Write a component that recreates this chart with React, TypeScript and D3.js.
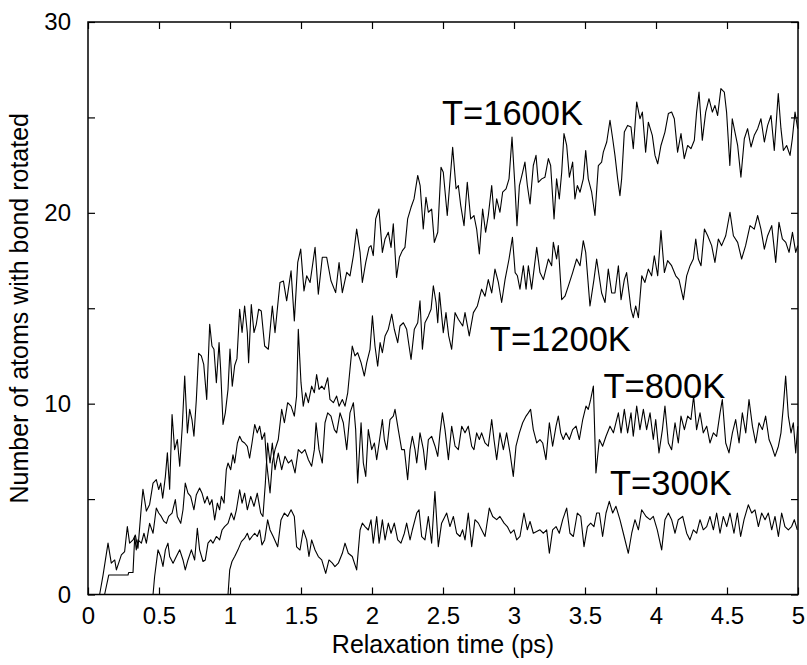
import React, { useEffect, useRef } from "react";
import * as d3 from "d3";

// tick values
const xTicks = [0, 0.5, 1, 1.5, 2, 2.5, 3, 3.5, 4, 4.5, 5];
const yTicks = [0, 5, 10, 15, 20, 25, 30];
const yLabelled = [0, 10, 20, 30];

// [time (ps), number of atoms]
const series1600: [number, number][] = [
  [0, 0], [0.082, 0], [0.106, 1.02], [0.141, 2.69], [0.164, 1.64], [0.188, 1.81], [0.2, 1.29], [0.235, 2.08], [0.258, 2.25], [0.277, 3.56], [0.293, 2.69], [0.317, 2.86], [0.333, 3.12], [0.352, 2.42], [0.376, 4.64], [0.387, 5.51], [0.411, 4.37], [0.434, 4.72], [0.458, 5.84], [0.481, 6.02], [0.498, 5.5], [0.512, 5.84], [0.526, 5.05], [0.545, 6.19], [0.559, 7.42], [0.575, 5.52], [0.592, 9.43], [0.61, 7.59], [0.629, 8.12], [0.646, 6.72], [0.664, 8.82], [0.681, 11.45], [0.7, 8.47], [0.716, 9.7], [0.732, 9.17], [0.746, 8.29], [0.763, 10.22], [0.779, 12.64], [0.798, 12.5], [0.815, 12.06], [0.836, 10.22], [0.857, 14.16], [0.873, 13.02], [0.887, 12.85], [0.904, 11.1], [0.923, 13.2], [0.934, 11.8], [0.951, 8.91], [0.967, 9.52], [0.986, 10.75], [1.0, 12.86], [1.016, 10.92], [1.033, 12.0], [1.049, 12.36], [1.068, 14.95], [1.085, 13.73], [1.103, 15.12], [1.122, 13.73], [1.131, 12.15], [1.15, 15.2], [1.169, 13.73], [1.185, 14.16], [1.202, 14.95], [1.22, 14.86], [1.244, 13.02],
  [1.27, 12.85], [1.298, 15.12], [1.317, 13.72], [1.352, 16.35], [1.376, 16.43], [1.399, 15.39], [1.43, 16.96], [1.453, 14.34], [1.477, 17.4], [1.498, 18.1], [1.521, 15.91], [1.54, 16.7], [1.564, 16.35], [1.599, 18.19], [1.622, 15.74], [1.65, 17.67], [1.681, 17.67], [1.711, 16.44], [1.744, 15.82], [1.768, 17.4], [1.791, 15.82], [1.822, 16.88], [1.845, 16.7], [1.869, 17.76], [1.892, 19.15], [1.916, 17.93], [1.932, 16.35], [1.956, 17.4], [1.979, 18.19], [1.993, 18.28], [2.009, 17.76], [2.026, 19.68], [2.049, 20.2], [2.073, 17.93], [2.092, 18.63], [2.115, 18.98], [2.134, 18.19], [2.15, 19.42], [2.173, 16.61], [2.193, 17.67], [2.214, 18.02], [2.232, 18.19], [2.251, 19.68], [2.275, 20.29], [2.296, 20.73], [2.322, 21.96], [2.339, 21.43], [2.361, 19.15], [2.38, 20.82], [2.397, 20.03], [2.42, 20.2], [2.439, 18.45], [2.463, 18.98], [2.486, 22.39], [2.502, 22.13],
  [2.53, 19.86], [2.568, 23.44], [2.592, 21.26], [2.608, 21.43], [2.625, 20.38], [2.648, 19.33], [2.671, 21.6], [2.695, 19.68], [2.718, 19.86], [2.737, 19.15], [2.756, 17.84], [2.779, 20.2], [2.8, 18.98], [2.819, 19.86], [2.843, 21.43], [2.861, 19.68], [2.878, 20.73], [2.901, 20.03], [2.92, 21.08], [2.944, 21.26], [2.965, 21.78], [2.986, 23.97], [3.005, 21.6], [3.021, 19.33], [3.038, 21.43], [3.061, 22.13], [3.077, 22.66], [3.094, 21.43], [3.113, 20.47], [3.136, 22.48], [3.155, 23.01], [3.171, 21.6], [3.195, 21.78], [3.218, 21.87], [3.242, 22.84], [3.258, 22.48], [3.282, 19.68], [3.3, 21.78], [3.319, 20.73], [3.336, 22.13], [3.352, 24.15], [3.371, 23.53], [3.39, 21.87], [3.413, 22.66], [3.429, 20.73], [3.446, 21.43], [3.465, 21.08], [3.488, 21.78], [3.505, 23.27], [3.523, 21.78], [3.547, 21.08], [3.57, 19.86], [3.594, 22.48], [3.617, 22.66], [3.629, 23.18], [3.653, 23.71], [3.676, 24.85], [3.695, 23.88], [3.711, 23.01],
  [3.73, 21.78], [3.746, 20.9], [3.758, 21.78], [3.777, 24.23], [3.8, 24.58], [3.824, 24.5], [3.84, 23.36], [3.864, 25.81], [3.887, 24.93], [3.904, 25.28], [3.927, 23.18], [3.946, 24.75], [3.974, 24.06], [3.993, 23.01], [4.012, 22.57], [4.035, 23.53], [4.063, 24.23], [4.087, 25.2], [4.11, 25.28], [4.129, 24.93], [4.152, 23.18], [4.176, 24.15], [4.199, 22.84], [4.223, 23.53], [4.246, 23.36], [4.27, 23.8], [4.286, 25.28], [4.303, 26.33], [4.326, 23.8], [4.35, 25.28], [4.373, 25.98], [4.397, 25.28], [4.415, 25.63], [4.434, 25.1], [4.457, 26.51], [4.481, 26.33], [4.497, 25.28], [4.52, 22.48], [4.537, 24.93], [4.556, 24.23], [4.575, 23.53], [4.598, 21.87], [4.622, 23.88], [4.645, 24.41], [4.669, 23.45], [4.692, 24.06], [4.716, 24.41], [4.739, 24.93], [4.763, 23.71], [4.786, 24.58], [4.81, 25.1], [4.833, 23.27], [4.861, 26.25], [4.88, 24.41], [4.897, 23.27], [4.92, 23.53], [4.944, 23.01], [4.96, 23.88], [4.979, 25.28], [4.998, 24.41],
];

const series1200: [number, number][] = [
  [0, 0], [0.117, 0], [0.146, 1.02], [0.282, 1.02], [0.286, 1.15], [0.317, 1.15], [0.329, 3.04], [0.34, 2.34], [0.352, 2.86], [0.376, 2.69], [0.394, 3.21], [0.411, 2.69], [0.434, 3.73], [0.458, 3.21], [0.481, 4.53], [0.498, 4.27], [0.516, 4.09], [0.535, 3.83], [0.552, 3.73], [0.568, 4.09], [0.592, 4.27], [0.615, 4.97], [0.629, 4.09], [0.653, 3.73], [0.669, 4.44], [0.685, 5.84], [0.704, 5.31], [0.723, 5.14], [0.746, 4.44], [0.763, 5.23], [0.786, 5.58], [0.803, 5.31], [0.822, 4.79], [0.84, 5.14], [0.857, 4.7], [0.873, 4.97], [0.892, 3.91], [0.911, 4.79], [0.927, 4.44], [0.939, 5.14], [0.958, 4.79], [0.974, 6.54], [0.986, 6.89], [1.005, 6.54], [1.021, 7.32], [1.033, 6.89], [1.052, 7.94], [1.068, 8.29], [1.085, 8.03], [1.103, 7.94], [1.122, 7.76], [1.138, 7.15], [1.155, 7.94], [1.174, 8.91], [1.192, 8.47], [1.209, 8.82], [1.225, 8.12], [1.244, 8.47],
  [1.258, 6.9], [1.282, 5.32], [1.298, 6.9], [1.317, 7.59], [1.34, 8.12], [1.364, 9.7], [1.383, 9.0], [1.406, 10.05], [1.43, 9.87], [1.453, 9.35], [1.469, 10.4], [1.481, 13.9], [1.5, 11.1], [1.516, 9.87], [1.533, 10.57], [1.552, 10.05], [1.575, 10.92], [1.594, 10.57], [1.61, 11.53], [1.627, 10.75], [1.646, 10.92], [1.664, 10.75], [1.688, 11.36], [1.704, 10.22], [1.728, 10.05], [1.751, 10.4], [1.768, 9.87], [1.791, 10.22], [1.81, 9.87], [1.829, 10.57], [1.845, 11.8], [1.861, 13.02], [1.88, 12.5], [1.899, 12.67], [1.923, 12.15], [1.946, 11.45], [1.963, 12.15], [1.986, 12.85], [2.003, 14.6], [2.021, 13.02], [2.04, 11.97], [2.057, 13.2], [2.073, 12.67], [2.092, 13.55], [2.115, 13.9], [2.139, 14.69], [2.157, 13.9], [2.181, 13.2], [2.197, 14.07], [2.221, 14.24], [2.244, 13.9], [2.261, 13.02], [2.275, 12.32], [2.298, 13.9], [2.322, 14.24], [2.338, 15.39], [2.355, 12.85], [2.373, 14.24], [2.397, 14.6], [2.416, 14.95], [2.432, 16.18], [2.451, 15.3], [2.463, 14.24], [2.475, 15.82],
  [2.502, 13.72], [2.521, 14.77], [2.54, 13.55], [2.561, 12.85], [2.585, 14.77], [2.608, 14.42], [2.639, 14.07], [2.655, 14.77], [2.685, 13.55], [2.714, 14.77], [2.742, 15.12], [2.772, 16.0], [2.796, 15.63], [2.819, 16.5], [2.843, 15.8], [2.866, 17.05], [2.89, 16.35], [2.913, 15.3], [2.937, 16.5], [2.965, 17.58], [2.989, 18.72], [3.008, 16.87], [3.024, 16.7], [3.042, 16.0], [3.066, 17.23], [3.085, 16.0], [3.101, 17.23], [3.124, 16.0], [3.16, 18.19], [3.183, 16.87], [3.207, 16.5], [3.242, 17.58], [3.265, 17.23], [3.277, 18.45], [3.3, 17.58], [3.312, 18.28], [3.336, 15.45], [3.359, 15.63], [3.383, 16.17], [3.413, 16.87], [3.441, 17.58], [3.465, 17.23], [3.488, 18.54], [3.505, 17.93], [3.535, 15.12], [3.563, 16.5], [3.582, 17.58], [3.617, 15.8], [3.641, 15.3], [3.664, 17.05], [3.688, 15.8],
  [3.711, 15.8], [3.735, 17.23], [3.754, 15.45], [3.777, 16.5], [3.793, 16.87], [3.824, 14.95], [3.84, 14.51], [3.857, 15.12], [3.876, 14.51], [3.9, 16.7], [3.922, 16.35], [3.946, 17.05], [3.969, 16.7], [3.988, 17.75], [4.012, 16.7], [4.035, 19.07], [4.059, 16.87], [4.082, 17.5], [4.11, 17.23], [4.139, 16.7], [4.162, 16.5], [4.193, 15.45], [4.216, 16.7], [4.24, 17.23], [4.263, 17.58], [4.28, 18.63], [4.298, 17.58], [4.317, 17.23], [4.341, 19.15], [4.364, 18.8], [4.392, 18.28], [4.415, 17.4], [4.439, 18.63], [4.462, 18.28], [4.491, 18.8], [4.521, 20.03], [4.545, 18.8], [4.575, 18.45], [4.603, 17.58], [4.631, 18.28], [4.662, 19.33], [4.692, 19.15], [4.716, 19.86], [4.739, 19.15], [4.763, 18.1], [4.786, 18.8], [4.815, 19.33], [4.843, 17.4], [4.866, 19.5], [4.89, 18.63], [4.914, 18.45], [4.937, 17.93], [4.961, 18.98], [4.984, 17.93], [4.998, 18.28],
];

const series800: [number, number][] = [
  [0, 0], [0.458, 0], [0.469, 0.93], [0.493, 2.34], [0.512, 1.99], [0.528, 1.47], [0.545, 2.34], [0.563, 2.69], [0.575, 1.99], [0.599, 1.64], [0.622, 1.99], [0.646, 2.34], [0.669, 1.81], [0.685, 1.29], [0.704, 1.81], [0.728, 2.34], [0.751, 1.81], [0.77, 3.47], [0.786, 2.34], [0.81, 1.73], [0.826, 1.81], [0.845, 2.69], [0.864, 2.86], [0.88, 2.69], [0.904, 3.04], [0.927, 2.86], [0.944, 3.38], [0.962, 3.56], [0.986, 3.73], [1.009, 4.27], [1.028, 3.91], [1.045, 4.44], [1.068, 5.49], [1.085, 4.79], [1.103, 5.31], [1.122, 4.44], [1.146, 5.14], [1.169, 4.62], [1.192, 5.31], [1.216, 4.27], [1.232, 4.09], [1.249, 5.84],
  [1.265, 7.94], [1.282, 6.89], [1.298, 7.94], [1.317, 6.54], [1.34, 7.41], [1.364, 6.54], [1.387, 7.24], [1.411, 6.89], [1.434, 7.06], [1.458, 6.37], [1.481, 7.59], [1.505, 7.41], [1.528, 7.59], [1.552, 7.06], [1.575, 6.72], [1.594, 7.59], [1.606, 9.0], [1.627, 7.59], [1.65, 6.89], [1.669, 9.0], [1.688, 9.52], [1.711, 9.35], [1.735, 8.64], [1.751, 8.47], [1.775, 9.52], [1.798, 9.0], [1.822, 7.59], [1.845, 9.52], [1.869, 10.05], [1.885, 8.64], [1.899, 5.84], [1.923, 9.0], [1.939, 6.89], [1.956, 6.19], [1.974, 8.64], [1.998, 7.59], [2.017, 7.94], [2.033, 7.06], [2.05, 7.94], [2.073, 9.17], [2.087, 8.12], [2.104, 7.59], [2.127, 9.17], [2.15, 9.35], [2.162, 9.7], [2.185, 8.64], [2.209, 7.59], [2.228, 7.59], [2.251, 6.02], [2.268, 7.59], [2.284, 8.29], [2.303, 7.59], [2.315, 6.89], [2.338, 8.47], [2.362, 7.59], [2.378, 6.54], [2.397, 8.12], [2.42, 8.29], [2.444, 7.77], [2.463, 7.24], [2.479, 8.47], [2.496, 9.52], [2.514, 8.64],
  [2.538, 7.07], [2.561, 8.82], [2.585, 7.77], [2.608, 7.59], [2.632, 8.82], [2.655, 8.47], [2.678, 8.82], [2.702, 7.77], [2.718, 7.59], [2.737, 8.47], [2.756, 8.12], [2.772, 8.47], [2.796, 7.94], [2.819, 7.77], [2.843, 9.17], [2.859, 8.12], [2.878, 7.07], [2.901, 8.47], [2.925, 7.59], [2.948, 8.47], [2.972, 7.42], [2.995, 6.19], [3.014, 7.77], [3.038, 8.47], [3.061, 9.0], [3.085, 9.35], [3.101, 9.52], [3.117, 9.7], [3.136, 8.64], [3.16, 7.94], [3.183, 8.12], [3.202, 7.94], [3.225, 7.07], [3.249, 9.0], [3.272, 7.77], [3.296, 8.82], [3.312, 9.35], [3.329, 8.47], [3.347, 8.12], [3.366, 8.47], [3.39, 8.12], [3.413, 8.64], [3.437, 8.82], [3.46, 8.12], [3.484, 9.17], [3.507, 9.87], [3.523, 9.7], [3.54, 10.22], [3.559, 10.92], [3.577, 6.37], [3.601, 8.12], [3.624, 7.77], [3.648, 8.29], [3.676, 8.82], [3.7, 8.47],
  [3.735, 9.52], [3.754, 8.47], [3.777, 9.7], [3.8, 8.47], [3.824, 9.52], [3.84, 8.29], [3.864, 9.87], [3.887, 8.64], [3.911, 9.7], [3.934, 8.64], [3.958, 9.52], [3.981, 8.12], [3.998, 9.17], [4.021, 7.42], [4.045, 8.64], [4.063, 9.87], [4.087, 7.94], [4.11, 7.59], [4.134, 9.0], [4.157, 7.94], [4.176, 9.35], [4.2, 8.64], [4.223, 9.35], [4.246, 9.17], [4.265, 10.4], [4.286, 8.64], [4.31, 9.52], [4.333, 8.47], [4.357, 8.82], [4.38, 7.94], [4.404, 8.47], [4.427, 8.29], [4.451, 9.52], [4.467, 10.22], [4.491, 7.94], [4.514, 7.42], [4.538, 8.47], [4.561, 9.17], [4.585, 7.94], [4.608, 9.52], [4.632, 8.47], [4.655, 10.22], [4.679, 8.82], [4.702, 7.94], [4.725, 9.0], [4.749, 8.64], [4.772, 9.35], [4.796, 8.12], [4.815, 7.77], [4.838, 7.24], [4.862, 7.77], [4.88, 8.47], [4.897, 9.87], [4.913, 11.45], [4.932, 9.35], [4.951, 8.47], [4.967, 9.0], [4.984, 7.42], [4.998, 8.82],
];

const series300: [number, number][] = [
  [0, 0], [0.986, 0], [0.998, 1.29], [1.014, 1.73], [1.033, 1.99], [1.056, 2.34], [1.08, 2.77], [1.103, 2.95], [1.122, 3.21], [1.138, 2.86], [1.155, 3.04], [1.174, 3.21], [1.192, 3.04], [1.209, 3.38], [1.225, 2.6], [1.244, 2.86],
  [1.265, 3.91], [1.282, 3.38], [1.305, 3.03], [1.336, 2.5], [1.359, 3.91], [1.383, 4.27], [1.406, 4.09], [1.43, 4.44], [1.453, 4.09], [1.469, 2.5], [1.493, 2.33], [1.516, 3.38], [1.54, 2.86], [1.556, 1.99], [1.575, 2.86], [1.599, 2.33], [1.622, 1.99], [1.646, 1.81], [1.674, 1.11], [1.697, 1.81], [1.721, 1.64], [1.739, 1.46], [1.763, 1.64], [1.791, 2.16], [1.81, 2.69], [1.833, 2.16], [1.861, 1.99], [1.892, 1.29], [1.916, 3.38], [1.932, 3.74], [1.951, 3.56], [1.974, 3.38], [1.993, 3.91], [2.009, 2.69], [2.033, 4.09], [2.05, 2.69], [2.073, 3.91], [2.092, 2.86], [2.115, 3.74], [2.134, 3.21], [2.157, 3.74], [2.181, 2.86], [2.204, 2.69], [2.228, 3.21], [2.244, 3.74], [2.268, 2.86], [2.284, 3.38], [2.315, 4.27], [2.331, 4.44], [2.35, 3.03], [2.373, 2.86], [2.397, 4.09], [2.42, 2.69],
  [2.443, 5.4], [2.467, 2.51], [2.49, 3.74], [2.526, 4.27], [2.549, 3.56], [2.573, 4.09], [2.596, 3.21], [2.62, 3.04], [2.638, 3.39], [2.655, 2.86], [2.678, 4.27], [2.702, 2.51], [2.725, 3.92], [2.749, 3.74], [2.772, 3.39], [2.796, 3.04], [2.826, 4.53], [2.85, 4.09], [2.878, 3.92], [2.901, 4.09], [2.93, 3.74], [2.953, 3.56], [2.977, 3.21], [3.0, 3.39], [3.019, 2.86], [3.042, 3.04], [3.07, 4.27], [3.094, 3.39], [3.113, 3.83], [3.136, 3.21],
  [3.183, 3.39], [3.207, 3.21], [3.23, 3.39], [3.249, 2.16], [3.272, 3.39], [3.296, 3.56], [3.319, 3.21], [3.343, 3.92], [3.371, 4.53], [3.394, 3.21], [3.418, 3.04], [3.446, 4.27], [3.47, 4.09], [3.493, 2.51], [3.517, 3.56], [3.54, 3.74], [3.563, 3.56], [3.582, 4.27], [3.601, 4.27], [3.624, 3.04], [3.648, 4.27], [3.671, 4.88], [3.695, 4.27], [3.718, 4.62], [3.746, 3.92], [3.77, 3.21], [3.805, 2.16], [3.829, 3.21], [3.852, 3.92], [3.876, 3.39], [3.899, 4.44], [3.93, 4.09], [3.958, 3.92], [3.981, 4.09], [4.009, 3.39], [4.04, 2.34], [4.063, 3.92], [4.087, 4.27], [4.11, 3.92], [4.134, 3.21], [4.157, 3.92], [4.188, 4.09], [4.216, 3.21], [4.239, 2.86], [4.263, 3.39], [4.286, 3.21], [4.31, 3.92], [4.333, 3.39], [4.357, 3.56], [4.38, 4.09], [4.404, 3.39], [4.427, 4.27], [4.451, 3.21], [4.474, 4.09], [4.498, 3.56], [4.521, 4.27], [4.549, 3.21], [4.573, 4.27], [4.596, 3.04], [4.62, 3.92], [4.65, 4.7], [4.674, 4.27], [4.697, 4.44], [4.721, 3.56], [4.744, 4.27], [4.768, 3.92], [4.791, 4.27], [4.815, 3.39], [4.838, 4.09], [4.862, 3.04], [4.885, 4.27], [4.908, 3.56], [4.932, 3.39], [4.955, 3.56], [4.974, 3.92], [4.995, 3.39],
];

const allSeries = [series1600, series1200, series800, series300];

// curve labels, anchored in data coordinates (left edge, baseline)
const curveNames = ["T=1600K", "T=1200K", "T=800K", "T=300K"];
const curveLabelT = [2.493, 2.83, 3.63, 3.676];
const curveLabelV = [24.6, 12.74, 10.3, 5.24];

const FONT = "'Liberation Sans', Arial, Helvetica, sans-serif";

export default function App() {
  const ref = useRef<SVGSVGElement>(null);

  useEffect(() => {
    const width = 807;
    const height = 665;
    const margin = { top: 22, right: 9, bottom: 70.5, left: 88 };

    const svg = d3.select(ref.current);
    svg.selectAll("*").remove();
    svg.attr("width", width).attr("height", height);

    const x = d3.scaleLinear().domain([0, 5]).range([margin.left, width - margin.right]);
    const y = d3.scaleLinear().domain([0, 30]).range([height - margin.bottom, margin.top]);

    // data lines
    const line = d3.line<[number, number]>()
      .x(d => x(d[0]))
      .y(d => y(d[1]));

    svg.append("g")
      .selectAll("path")
      .data(allSeries)
      .enter()
      .append("path")
      .attr("d", d => line(d))
      .attr("fill", "none")
      .attr("stroke", "#000")
      .attr("stroke-width", 1.1)
      .attr("stroke-linejoin", "round");

    // axes, ticks pointing inward
    const fmtY = (d: d3.NumberValue) => (yLabelled.includes(+d) ? String(d) : "");

    const bottom = svg.append("g")
      .attr("transform", `translate(0, ${y(0)})`)
      .call(d3.axisBottom(x).tickValues(xTicks).tickSizeInner(-7).tickSizeOuter(0).tickPadding(12).tickFormat(d => String(d)));
    const top = svg.append("g")
      .attr("transform", `translate(0, ${y(30)})`)
      .call(d3.axisTop(x).tickValues(xTicks).tickSizeInner(-7).tickSizeOuter(0).tickFormat(() => ""));
    const left = svg.append("g")
      .attr("transform", `translate(${x(0)}, 0)`)
      .call(d3.axisLeft(y).tickValues(yTicks).tickSizeInner(-7).tickSizeOuter(0).tickPadding(17).tickFormat(fmtY));
    const right = svg.append("g")
      .attr("transform", `translate(${x(5)}, 0)`)
      .call(d3.axisRight(y).tickValues(yTicks).tickSizeInner(-7).tickSizeOuter(0).tickFormat(() => ""));

    [bottom, top, left, right].forEach(g => {
      g.select(".domain").remove();
      g.selectAll(".tick line").attr("stroke", "#000").attr("stroke-width", 1.2);
      g.selectAll(".tick text")
        .attr("fill", "#000")
        .attr("font-family", FONT)
        .attr("font-size", 24);
    });

    // frame
    svg.append("rect")
      .attr("x", x(0))
      .attr("y", y(30))
      .attr("width", x(5) - x(0))
      .attr("height", y(0) - y(30))
      .attr("fill", "none")
      .attr("stroke", "#000")
      .attr("stroke-width", 1.5);

    // curve labels
    svg.append("g")
      .selectAll("text")
      .data(curveNames)
      .enter()
      .append("text")
      .attr("x", (_, i) => x(curveLabelT[i]))
      .attr("y", (_, i) => y(curveLabelV[i]))
      .attr("font-family", FONT)
      .attr("font-size", 34.5)
      .attr("fill", "#000")
      .text(d => d);

    // x-axis label
    svg.append("text")
      .attr("x", (x(0) + x(5)) / 2)
      .attr("y", 653)
      .attr("text-anchor", "middle")
      .attr("font-family", FONT)
      .attr("font-size", 25)
      .text("Relaxation time (ps)");

    // y-axis label
    svg.append("text")
      .attr("transform", `translate(28, ${(y(0) + y(30)) / 2}) rotate(-90)`)
      .attr("text-anchor", "middle")
      .attr("font-family", FONT)
      .attr("font-size", 25)
      .text("Number of atoms with bond rotated");
  }, []);

  return (
    <div style={{ position: "absolute", left: 0, top: 0, background: "#fff" }}>
      <svg ref={ref} />
    </div>
  );
}
